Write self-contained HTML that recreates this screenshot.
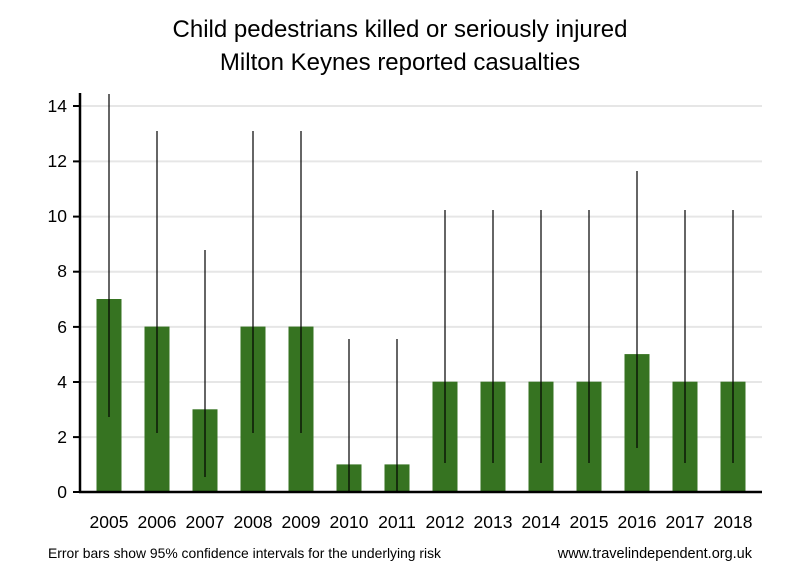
<!DOCTYPE html>
<html><head><style>body{margin:0;background:#fff}svg{display:block}</style></head><body>
<svg width="800" height="580" xmlns="http://www.w3.org/2000/svg" font-family="Liberation Sans, sans-serif">
<rect width="800" height="580" fill="#fff"/>
<text x="400" y="37" text-anchor="middle" font-size="24">Child pedestrians killed or seriously injured</text>
<text x="400" y="70" text-anchor="middle" font-size="24">Milton Keynes reported casualties</text>
<g stroke="#e6e6e6" stroke-width="2">
<line x1="80" x2="762" y1="106" y2="106"/><line x1="80" x2="762" y1="161.4" y2="161.4"/>
<line x1="80" x2="762" y1="216.6" y2="216.6"/><line x1="80" x2="762" y1="271.7" y2="271.7"/>
<line x1="80" x2="762" y1="326.9" y2="326.9"/><line x1="80" x2="762" y1="382" y2="382"/>
<line x1="80" x2="762" y1="437.1" y2="437.1"/>
</g>
<g fill="#367321">
<rect x="96.5" y="299" width="25" height="193"/>
<rect x="144.5" y="326.6" width="25" height="165.4"/>
<rect x="192.5" y="409.3" width="25" height="82.7"/>
<rect x="240.5" y="326.6" width="25" height="165.4"/>
<rect x="288.5" y="326.6" width="25" height="165.4"/>
<rect x="336.5" y="464.4" width="25" height="27.6"/>
<rect x="384.5" y="464.4" width="25" height="27.6"/>
<rect x="432.5" y="381.7" width="25" height="110.3"/>
<rect x="480.5" y="381.7" width="25" height="110.3"/>
<rect x="528.5" y="381.7" width="25" height="110.3"/>
<rect x="576.5" y="381.7" width="25" height="110.3"/>
<rect x="624.5" y="354.1" width="25" height="137.9"/>
<rect x="672.5" y="381.7" width="25" height="110.3"/>
<rect x="720.5" y="381.7" width="25" height="110.3"/>
</g>
<g stroke="#000" stroke-width="1.2">
<line x1="109" x2="109" y1="94" y2="417"/>
<line x1="157" x2="157" y1="131" y2="433"/>
<line x1="205" x2="205" y1="250" y2="477"/>
<line x1="253" x2="253" y1="131" y2="433"/>
<line x1="301" x2="301" y1="131" y2="433"/>
<line x1="349" x2="349" y1="339" y2="492"/>
<line x1="397" x2="397" y1="339" y2="492"/>
<line x1="445" x2="445" y1="210" y2="463"/>
<line x1="493" x2="493" y1="210" y2="463"/>
<line x1="541" x2="541" y1="210" y2="463"/>
<line x1="589" x2="589" y1="210" y2="463"/>
<line x1="637" x2="637" y1="171" y2="448"/>
<line x1="685" x2="685" y1="210" y2="463"/>
<line x1="733" x2="733" y1="210" y2="463"/>
</g>
<g stroke="#000" stroke-width="2.5">
<line x1="80" x2="80" y1="93" y2="493"/>
<line x1="79" x2="762" y1="492" y2="492"/>
</g>
<g stroke="#000" stroke-width="2">
<line x1="73" x2="80" y1="106" y2="106"/><line x1="73" x2="80" y1="161.4" y2="161.4"/>
<line x1="73" x2="80" y1="216.6" y2="216.6"/><line x1="73" x2="80" y1="271.7" y2="271.7"/>
<line x1="73" x2="80" y1="326.9" y2="326.9"/><line x1="73" x2="80" y1="382" y2="382"/>
<line x1="73" x2="80" y1="437.1" y2="437.1"/><line x1="73" x2="80" y1="492" y2="492"/>
</g>
<g font-size="17.5" text-anchor="end">
<text x="67" y="112">14</text><text x="67" y="167">12</text><text x="67" y="222">10</text>
<text x="67" y="277">8</text><text x="67" y="333">6</text><text x="67" y="388">4</text>
<text x="67" y="443">2</text><text x="67" y="498">0</text>
</g>
<g font-size="17.5" text-anchor="middle">
<text x="109" y="528">2005</text><text x="157" y="528">2006</text><text x="205" y="528">2007</text>
<text x="253" y="528">2008</text><text x="301" y="528">2009</text><text x="349" y="528">2010</text>
<text x="397" y="528">2011</text><text x="445" y="528">2012</text><text x="493" y="528">2013</text>
<text x="541" y="528">2014</text><text x="589" y="528">2015</text><text x="637" y="528">2016</text>
<text x="685" y="528">2017</text><text x="733" y="528">2018</text>
</g>
<text x="48" y="558" font-size="13.9">Error bars show 95% confidence intervals for the underlying risk</text>
<text x="752" y="558" font-size="14.5" text-anchor="end">www.travelindependent.org.uk</text>
</svg>
</body></html>
